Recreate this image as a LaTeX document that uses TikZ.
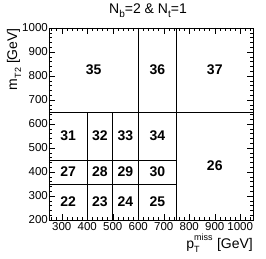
\documentclass[tikz,border=0pt]{standalone}
\usepackage{fontspec}
\setmainfont{Liberation Sans}
\begin{document}
\begin{tikzpicture}[x=1pt,y=1pt,
  binline/.style={black,line width=0.7pt},
  frame/.style={black,line width=0.7pt},
  tick/.style={black,line width=0.5pt},
  binlabel/.style={font=\fontsize{14}{14}\selectfont\bfseries,inner sep=0pt},
  ticklabel/.style={font=\fontsize{11.5}{11.5}\selectfont,inner sep=0pt},
  axtitle/.style={font=\fontsize{14}{14}\selectfont,inner sep=0pt}]
\useasboundingbox (0,0) rectangle (266,258);
\fill[white] (0,0) rectangle (266,258);
% title
\node[axtitle,anchor=base] (title) at (148,245) {N\raisebox{-0.3em}{\fontsize{10}{10}\selectfont b}=2 \& N\raisebox{-0.3em}{\fontsize{10}{10}\selectfont t}=1};
% axis titles
\node[axtitle,anchor=base east,rotate=90] (ytitle) at (17,230) {m\raisebox{-0.3em}{\fontsize{9}{9}\selectfont T2} [GeV]};
\node[axtitle,anchor=base east] (xtitle) at (253,10) {p\rlap{\raisebox{0.5em}{\fontsize{9}{9}\selectfont miss}}\raisebox{-0.35em}{\fontsize{9}{9}\selectfont T}\hspace{13.5pt} [GeV]};
\begin{scope}[shift={(49,38)},x=0.255pt,y=0.24pt]
\begin{scope}[shift={(-250,-200)}]
  % bin boundary lines
  \coordinate (a1) at (250,350); \coordinate (a2) at (750,350);
  \coordinate (b1) at (250,450); \coordinate (b2) at (750,450);
  \coordinate (c1) at (250,650); \coordinate (c2) at (1050,650);
  \coordinate (d1) at (400,200); \coordinate (d2) at (400,650);
  \coordinate (e1) at (500,200); \coordinate (e2) at (500,650);
  \coordinate (f1) at (600,200); \coordinate (f2) at (600,1000);
  \coordinate (g1) at (750,200); \coordinate (g2) at (750,1000);
  \draw[binline] (a1) -- (a2);
  \draw[binline] (b1) -- (b2);
  \draw[binline] (c1) -- (c2);
  \draw[binline] (d1) -- (d2);
  \draw[binline] (e1) -- (e2);
  \draw[binline] (f1) -- (f2);
  \draw[binline] (g1) -- (g2);
  % ticks
  \foreach \X in {260,280,...,1040} {
    \draw[tick] (\X,200) -- ++(0,3pt);
    \draw[tick] (\X,1000) -- ++(0,-3pt);
  }
  \foreach \X in {300,400,...,1000} {
    \draw[tick] (\X,200) -- ++(0,6pt);
    \draw[tick] (\X,1000) -- ++(0,-6pt);
    \node[ticklabel,anchor=north] (xl\X) at ([yshift=-2pt]\X,200) {\X};
  }
  \foreach \Y in {220,240,...,980} {
    \draw[tick] (250,\Y) -- ++(3pt,0);
    \draw[tick] (1050,\Y) -- ++(-3pt,0);
  }
  \foreach \Y in {200,300,...,1000} {
    \draw[tick] (250,\Y) -- ++(6pt,0);
    \draw[tick] (1050,\Y) -- ++(-6pt,0);
    \node[ticklabel,anchor=east] (yl\Y) at ([xshift=-1pt]250,\Y) {\Y};
  }
  % frame
  \draw[frame] (250,200) rectangle (1050,1000);
  % bin labels
  \node[binlabel] (n22) at (325,275) {22};
  \node[binlabel] (n23) at (450,275) {23};
  \node[binlabel] (n24) at (550,275) {24};
  \node[binlabel] (n25) at (675,275) {25};
  \node[binlabel] (n27) at (325,400) {27};
  \node[binlabel] (n28) at (450,400) {28};
  \node[binlabel] (n29) at (550,400) {29};
  \node[binlabel] (n30) at (675,400) {30};
  \node[binlabel] (n31) at (325,550) {31};
  \node[binlabel] (n32) at (450,550) {32};
  \node[binlabel] (n33) at (550,550) {33};
  \node[binlabel] (n34) at (675,550) {34};
  \node[binlabel] (n26) at (900,425) {26};
  \node[binlabel] (n35) at (425,825) {35};
  \node[binlabel] (n36) at (675,825) {36};
  \node[binlabel] (n37) at (900,825) {37};
\end{scope}
\end{scope}
\end{tikzpicture}
\end{document}
